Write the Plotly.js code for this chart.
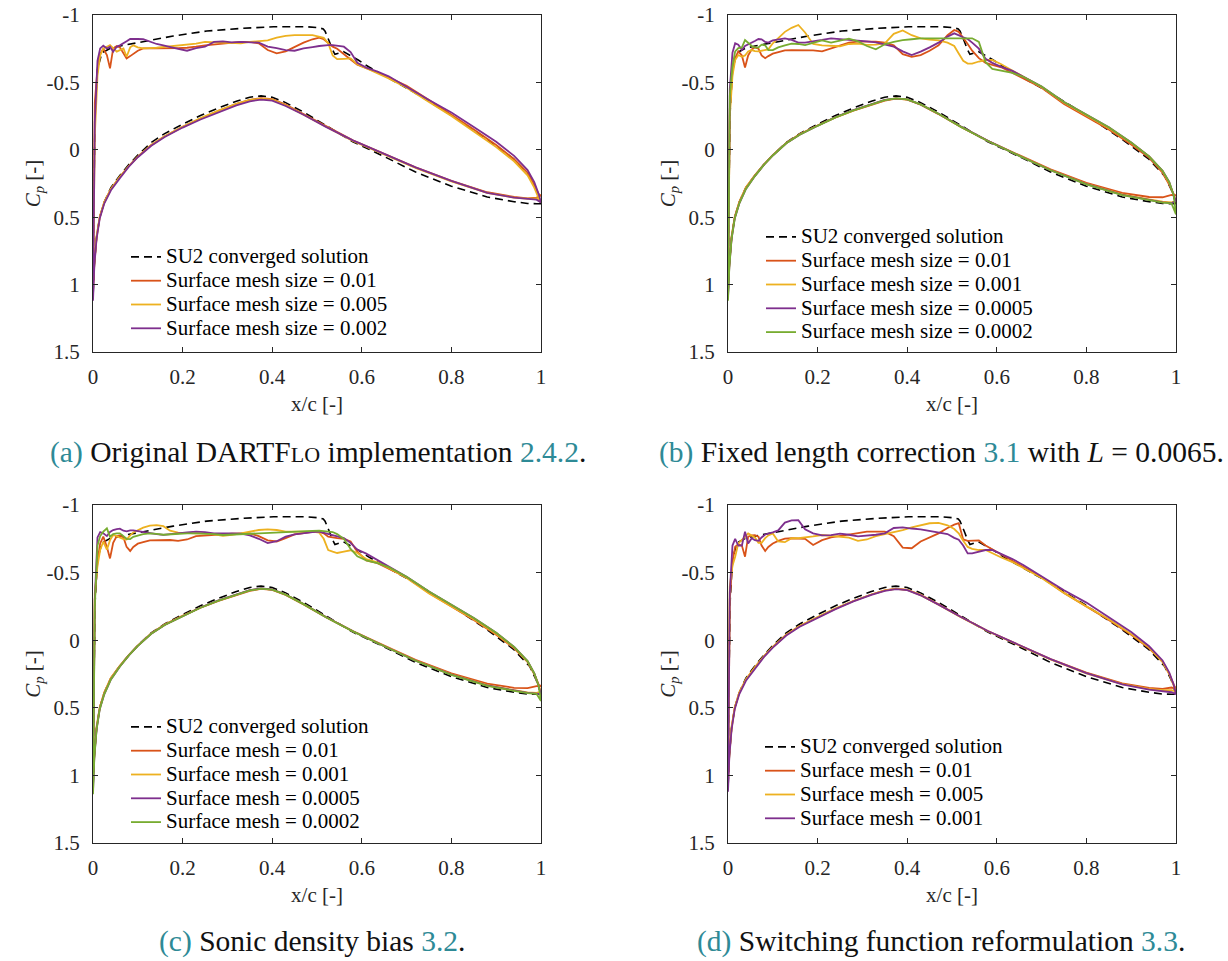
<!DOCTYPE html>
<html><head><meta charset="utf-8">
<script src="https://cdn.plot.ly/plotly-3.0.1.min.js"></script>
<style>
html,body{margin:0;padding:0;background:#fff}
#chart{width:1228px;height:961px}
#chart svg text{font-family:"Liberation Serif","Times New Roman",serif !important}
</style>
</head><body><div id="chart"></div>
<script>
// ---------- data ----------
const X_TICKS = [0, 0.2, 0.4, 0.6, 0.8, 1];
const X_TICK_TEXT = ['0', '0.2', '0.4', '0.6', '0.8', '1'];
const Y_TICKS = [-1, -0.5, 0, 0.5, 1, 1.5];
const Y_TICK_TEXT = ['-1', '-0.5', '0', '0.5', '1', '1.5'];

// upper (suction) surface stations, leading edge -> trailing edge
const XU = [0, 0.004, 0.01, 0.016, 0.023, 0.031, 0.038, 0.045, 0.053, 0.06, 0.068, 0.075, 0.083, 0.09, 0.1, 0.112, 0.127, 0.142, 0.157, 0.172, 0.19, 0.21, 0.23, 0.25, 0.27, 0.29, 0.31, 0.33, 0.35, 0.37, 0.39, 0.41, 0.43, 0.45, 0.47, 0.49, 0.505, 0.515, 0.525, 0.535, 0.545, 0.56, 0.575, 0.59, 0.61, 0.635, 0.66, 0.7, 0.75, 0.8, 0.85, 0.9, 0.94, 0.97, 0.985, 0.995, 1.0];
// lower (pressure) surface stations, leading edge -> trailing edge
const XL = [0, 0.003, 0.008, 0.015, 0.025, 0.04, 0.06, 0.08, 0.1, 0.13, 0.16, 0.2, 0.24, 0.28, 0.32, 0.35, 0.375, 0.4, 0.43, 0.47, 0.52, 0.58, 0.65, 0.72, 0.8, 0.88, 0.94, 0.97, 0.99, 1.0];

// SU2 converged solution (same reference in all four panels)
const SU2_XU = [0, 0.002, 0.005, 0.01, 0.02, 0.038, 0.06, 0.105, 0.179, 0.254, 0.328, 0.403, 0.477, 0.505, 0.514, 0.518, 0.522, 0.528, 0.535, 0.54, 0.559, 0.575, 0.592, 0.615, 0.655, 0.715, 0.797, 0.879, 0.938, 0.975, 0.99, 1.0];
const SU2_CPU = [1.1, 0.3, -0.3, -0.6, -0.72, -0.752, -0.77, -0.8, -0.844, -0.881, -0.9, -0.913, -0.913, -0.905, -0.896, -0.88, -0.856, -0.8, -0.74, -0.708, -0.728, -0.7, -0.666, -0.616, -0.542, -0.43, -0.262, -0.08, 0.065, 0.195, 0.3, 0.4];
const SU2_CPL = [1.1, 0.85, 0.65, 0.5, 0.39, 0.28, 0.19, 0.11, 0.04, -0.055, -0.12, -0.19, -0.255, -0.31, -0.36, -0.39, -0.4, -0.39, -0.35, -0.28, -0.18, -0.06, 0.05, 0.165, 0.27, 0.35, 0.385, 0.398, 0.4, 0.4];

// (a) Original DARTFlo implementation
const A_NAMES = ['SU2 converged solution', 'Surface mesh size = 0.01', 'Surface mesh size = 0.005', 'Surface mesh size = 0.002'];
const A_001_U = [1.05, -0.35, -0.6, -0.71, -0.75, -0.703, -0.604, -0.752, -0.77, -0.76, -0.72, -0.678, -0.695, -0.715, -0.735, -0.752, -0.752, -0.752, -0.75, -0.752, -0.755, -0.757, -0.765, -0.775, -0.785, -0.79, -0.795, -0.8, -0.8, -0.79, -0.74, -0.715, -0.73, -0.765, -0.795, -0.82, -0.832, -0.82, -0.795, -0.765, -0.75, -0.712, -0.67, -0.632, -0.605, -0.575, -0.54, -0.475, -0.37, -0.263, -0.15, -0.035, 0.07, 0.17, 0.26, 0.33, 0.34];
const A_001_L = [1.05, 0.85, 0.65, 0.5, 0.39, 0.29, 0.2, 0.12, 0.05, -0.035, -0.1, -0.17, -0.23, -0.29, -0.34, -0.37, -0.383, -0.375, -0.335, -0.265, -0.175, -0.07, 0.03, 0.13, 0.23, 0.315, 0.35, 0.36, 0.355, 0.34];
const A_0005_U = [1.0, -0.1, -0.55, -0.7, -0.752, -0.765, -0.777, -0.755, -0.728, -0.74, -0.752, -0.69, -0.76, -0.775, -0.76, -0.752, -0.754, -0.757, -0.76, -0.764, -0.77, -0.78, -0.787, -0.8, -0.8, -0.797, -0.793, -0.79, -0.8, -0.807, -0.812, -0.832, -0.845, -0.851, -0.851, -0.85, -0.84, -0.83, -0.79, -0.7, -0.673, -0.675, -0.678, -0.635, -0.605, -0.57, -0.53, -0.46, -0.355, -0.25, -0.135, -0.02, 0.085, 0.19, 0.28, 0.36, 0.39];
const A_0005_L = [1.0, 0.83, 0.64, 0.5, 0.39, 0.29, 0.2, 0.12, 0.05, -0.035, -0.1, -0.17, -0.235, -0.29, -0.34, -0.37, -0.38, -0.372, -0.33, -0.26, -0.17, -0.065, 0.035, 0.135, 0.235, 0.32, 0.355, 0.362, 0.36, 0.39];
const A_0002_U = [1.12, -0.2, -0.66, -0.752, -0.772, -0.752, -0.765, -0.728, -0.765, -0.775, -0.79, -0.805, -0.822, -0.822, -0.822, -0.82, -0.8, -0.785, -0.775, -0.765, -0.748, -0.735, -0.755, -0.765, -0.8, -0.805, -0.797, -0.8, -0.8, -0.795, -0.765, -0.755, -0.74, -0.735, -0.752, -0.762, -0.77, -0.775, -0.777, -0.777, -0.774, -0.765, -0.725, -0.645, -0.61, -0.58, -0.545, -0.465, -0.37, -0.277, -0.17, -0.06, 0.045, 0.15, 0.24, 0.33, 0.39];
const A_0002_L = [1.12, 0.86, 0.66, 0.51, 0.4, 0.3, 0.21, 0.125, 0.055, -0.03, -0.095, -0.165, -0.225, -0.28, -0.33, -0.36, -0.372, -0.365, -0.325, -0.26, -0.17, -0.07, 0.03, 0.13, 0.23, 0.32, 0.355, 0.365, 0.37, 0.39];

// (b) Fixed length correction, L = 0.0065
const B_NAMES = ['SU2 converged solution', 'Surface mesh size = 0.01', 'Surface mesh size = 0.001', 'Surface mesh size = 0.0005', 'Surface mesh size = 0.0002'];
const B_001_U = [1.05, -0.3, -0.58, -0.68, -0.73, -0.7, -0.61, -0.7, -0.745, -0.76, -0.75, -0.7, -0.68, -0.695, -0.713, -0.725, -0.738, -0.74, -0.74, -0.74, -0.737, -0.73, -0.752, -0.772, -0.795, -0.802, -0.802, -0.802, -0.795, -0.775, -0.71, -0.69, -0.703, -0.735, -0.775, -0.85, -0.889, -0.875, -0.835, -0.785, -0.735, -0.68, -0.645, -0.63, -0.612, -0.57, -0.53, -0.46, -0.34, -0.245, -0.15, -0.04, 0.06, 0.17, 0.26, 0.33, 0.34];
const B_001_L = [1.05, 0.85, 0.65, 0.5, 0.39, 0.28, 0.19, 0.11, 0.04, -0.05, -0.115, -0.18, -0.24, -0.29, -0.335, -0.365, -0.38, -0.372, -0.335, -0.265, -0.17, -0.067, 0.04, 0.145, 0.245, 0.32, 0.35, 0.352, 0.335, 0.34];
const B_0001_U = [1.0, -0.25, -0.55, -0.666, -0.703, -0.69, -0.7, -0.73, -0.74, -0.732, -0.73, -0.735, -0.74, -0.745, -0.79, -0.83, -0.875, -0.905, -0.926, -0.87, -0.785, -0.775, -0.77, -0.768, -0.785, -0.787, -0.778, -0.78, -0.79, -0.86, -0.885, -0.85, -0.826, -0.818, -0.812, -0.795, -0.77, -0.715, -0.66, -0.64, -0.64, -0.655, -0.666, -0.666, -0.635, -0.585, -0.54, -0.465, -0.35, -0.255, -0.16, -0.05, 0.05, 0.16, 0.25, 0.34, 0.38];
const B_0001_L = [1.0, 0.84, 0.64, 0.5, 0.39, 0.28, 0.19, 0.11, 0.04, -0.05, -0.115, -0.18, -0.24, -0.292, -0.338, -0.368, -0.381, -0.373, -0.336, -0.266, -0.17, -0.065, 0.042, 0.15, 0.252, 0.33, 0.368, 0.385, 0.39, 0.38];
const B_00005_U = [1.1, -0.45, -0.72, -0.79, -0.78, -0.74, -0.77, -0.782, -0.795, -0.807, -0.822, -0.82, -0.8, -0.795, -0.812, -0.82, -0.826, -0.815, -0.795, -0.795, -0.802, -0.815, -0.827, -0.822, -0.816, -0.81, -0.804, -0.797, -0.78, -0.765, -0.73, -0.703, -0.728, -0.76, -0.795, -0.84, -0.864, -0.85, -0.835, -0.822, -0.795, -0.75, -0.675, -0.645, -0.615, -0.585, -0.54, -0.47, -0.355, -0.262, -0.168, -0.055, 0.05, 0.155, 0.24, 0.34, 0.38];
const B_00005_L = [1.1, 0.86, 0.66, 0.51, 0.4, 0.29, 0.195, 0.112, 0.042, -0.048, -0.112, -0.178, -0.242, -0.295, -0.34, -0.37, -0.382, -0.374, -0.337, -0.267, -0.172, -0.066, 0.045, 0.152, 0.255, 0.335, 0.372, 0.39, 0.395, 0.38];
const B_00002_U = [1.12, -0.4, -0.62, -0.73, -0.755, -0.76, -0.814, -0.79, -0.77, -0.758, -0.76, -0.78, -0.775, -0.74, -0.74, -0.76, -0.775, -0.788, -0.785, -0.777, -0.795, -0.812, -0.795, -0.81, -0.825, -0.805, -0.77, -0.745, -0.783, -0.8, -0.813, -0.82, -0.827, -0.827, -0.827, -0.827, -0.827, -0.827, -0.827, -0.828, -0.827, -0.8, -0.65, -0.6, -0.585, -0.57, -0.54, -0.47, -0.355, -0.262, -0.168, -0.055, 0.05, 0.155, 0.24, 0.34, 0.48];
const B_00002_L = [1.12, 0.87, 0.66, 0.51, 0.4, 0.29, 0.195, 0.112, 0.042, -0.048, -0.112, -0.178, -0.24, -0.293, -0.338, -0.368, -0.381, -0.374, -0.337, -0.267, -0.17, -0.065, 0.045, 0.152, 0.256, 0.337, 0.374, 0.392, 0.397, 0.48];

// (c) Sonic density bias
const C_NAMES = ['SU2 converged solution', 'Surface mesh = 0.01', 'Surface mesh = 0.001', 'Surface mesh = 0.0005', 'Surface mesh = 0.0002'];
const C_001_U = [1.05, -0.3, -0.58, -0.716, -0.766, -0.69, -0.605, -0.72, -0.77, -0.775, -0.76, -0.69, -0.66, -0.69, -0.714, -0.725, -0.738, -0.741, -0.741, -0.741, -0.735, -0.745, -0.77, -0.774, -0.778, -0.783, -0.788, -0.79, -0.79, -0.77, -0.738, -0.73, -0.755, -0.783, -0.795, -0.802, -0.803, -0.79, -0.766, -0.76, -0.755, -0.75, -0.73, -0.655, -0.59, -0.57, -0.53, -0.465, -0.35, -0.25, -0.15, -0.04, 0.06, 0.16, 0.25, 0.33, 0.34];
const C_001_L = [1.05, 0.85, 0.65, 0.5, 0.39, 0.28, 0.19, 0.11, 0.04, -0.05, -0.115, -0.18, -0.24, -0.29, -0.335, -0.365, -0.38, -0.372, -0.335, -0.265, -0.17, -0.067, 0.04, 0.145, 0.245, 0.322, 0.352, 0.355, 0.34, 0.34];
const C_0001_U = [1.0, -0.35, -0.55, -0.667, -0.729, -0.67, -0.74, -0.778, -0.77, -0.762, -0.748, -0.745, -0.775, -0.797, -0.81, -0.833, -0.847, -0.851, -0.843, -0.81, -0.795, -0.79, -0.79, -0.79, -0.782, -0.772, -0.78, -0.79, -0.8, -0.815, -0.82, -0.815, -0.803, -0.803, -0.803, -0.803, -0.795, -0.75, -0.667, -0.655, -0.645, -0.655, -0.665, -0.645, -0.6, -0.575, -0.535, -0.46, -0.345, -0.25, -0.155, -0.045, 0.055, 0.16, 0.25, 0.34, 0.38];
const C_0001_L = [1.0, 0.84, 0.64, 0.5, 0.39, 0.28, 0.19, 0.11, 0.04, -0.05, -0.115, -0.18, -0.242, -0.293, -0.338, -0.368, -0.382, -0.374, -0.337, -0.267, -0.171, -0.066, 0.043, 0.15, 0.252, 0.332, 0.37, 0.386, 0.39, 0.38];
const C_00005_U = [1.12, -0.3, -0.76, -0.8, -0.79, -0.77, -0.8, -0.815, -0.822, -0.825, -0.81, -0.805, -0.812, -0.813, -0.81, -0.803, -0.792, -0.785, -0.779, -0.783, -0.79, -0.797, -0.803, -0.8, -0.79, -0.79, -0.79, -0.788, -0.775, -0.75, -0.718, -0.732, -0.766, -0.782, -0.792, -0.8, -0.803, -0.797, -0.79, -0.78, -0.768, -0.755, -0.72, -0.67, -0.64, -0.595, -0.545, -0.47, -0.36, -0.262, -0.165, -0.055, 0.05, 0.155, 0.245, 0.34, 0.4];
const C_00005_L = [1.12, 0.86, 0.66, 0.51, 0.4, 0.29, 0.195, 0.112, 0.042, -0.048, -0.112, -0.178, -0.242, -0.295, -0.34, -0.37, -0.383, -0.375, -0.338, -0.268, -0.172, -0.066, 0.045, 0.152, 0.255, 0.335, 0.372, 0.39, 0.395, 0.4];
const C_00002_U = [1.14, -0.25, -0.7, -0.77, -0.803, -0.827, -0.766, -0.785, -0.79, -0.79, -0.77, -0.75, -0.748, -0.765, -0.777, -0.785, -0.79, -0.787, -0.78, -0.78, -0.786, -0.79, -0.79, -0.79, -0.785, -0.778, -0.783, -0.788, -0.79, -0.793, -0.796, -0.8, -0.803, -0.803, -0.805, -0.808, -0.81, -0.808, -0.805, -0.8, -0.785, -0.75, -0.675, -0.62, -0.59, -0.57, -0.54, -0.47, -0.36, -0.262, -0.165, -0.055, 0.05, 0.155, 0.245, 0.34, 0.45];
const C_00002_L = [1.14, 0.87, 0.66, 0.51, 0.4, 0.29, 0.195, 0.112, 0.042, -0.048, -0.112, -0.178, -0.24, -0.293, -0.338, -0.368, -0.381, -0.374, -0.337, -0.267, -0.17, -0.065, 0.045, 0.152, 0.256, 0.337, 0.374, 0.392, 0.397, 0.45];

// (d) Switching function reformulation
const D_NAMES = ['SU2 converged solution', 'Surface mesh = 0.01', 'Surface mesh = 0.005', 'Surface mesh = 0.001'];
const D_001_U = [1.05, -0.3, -0.58, -0.692, -0.71, -0.7, -0.618, -0.766, -0.775, -0.776, -0.766, -0.7, -0.66, -0.69, -0.715, -0.735, -0.752, -0.754, -0.754, -0.75, -0.704, -0.74, -0.76, -0.77, -0.78, -0.792, -0.803, -0.803, -0.803, -0.77, -0.685, -0.68, -0.73, -0.757, -0.79, -0.83, -0.855, -0.865, -0.745, -0.735, -0.733, -0.738, -0.7, -0.668, -0.635, -0.585, -0.54, -0.465, -0.35, -0.25, -0.15, -0.04, 0.06, 0.16, 0.25, 0.33, 0.36];
const D_001_L = [1.05, 0.85, 0.65, 0.5, 0.39, 0.29, 0.2, 0.12, 0.05, -0.04, -0.105, -0.172, -0.233, -0.29, -0.338, -0.368, -0.381, -0.373, -0.335, -0.265, -0.172, -0.068, 0.035, 0.14, 0.24, 0.32, 0.352, 0.36, 0.35, 0.36];
const D_0005_U = [1.0, -0.4, -0.55, -0.618, -0.716, -0.745, -0.765, -0.79, -0.775, -0.76, -0.72, -0.72, -0.755, -0.775, -0.79, -0.73, -0.725, -0.754, -0.754, -0.758, -0.768, -0.778, -0.77, -0.764, -0.758, -0.735, -0.745, -0.77, -0.787, -0.8, -0.815, -0.835, -0.852, -0.865, -0.868, -0.85, -0.822, -0.79, -0.735, -0.69, -0.675, -0.667, -0.667, -0.64, -0.612, -0.578, -0.535, -0.46, -0.35, -0.25, -0.155, -0.045, 0.055, 0.16, 0.25, 0.34, 0.38];
const D_0005_L = [1.0, 0.84, 0.64, 0.5, 0.39, 0.29, 0.2, 0.12, 0.05, -0.04, -0.105, -0.172, -0.235, -0.29, -0.338, -0.368, -0.38, -0.372, -0.333, -0.262, -0.17, -0.066, 0.038, 0.143, 0.245, 0.325, 0.36, 0.37, 0.37, 0.38];
const D_0001_U = [1.12, -0.35, -0.7, -0.75, -0.7, -0.7, -0.803, -0.716, -0.754, -0.74, -0.735, -0.76, -0.782, -0.788, -0.797, -0.812, -0.87, -0.886, -0.887, -0.82, -0.79, -0.775, -0.777, -0.788, -0.78, -0.768, -0.772, -0.78, -0.79, -0.83, -0.835, -0.826, -0.82, -0.81, -0.797, -0.785, -0.757, -0.743, -0.7, -0.642, -0.642, -0.655, -0.667, -0.667, -0.64, -0.6, -0.555, -0.475, -0.37, -0.278, -0.17, -0.06, 0.045, 0.15, 0.24, 0.33, 0.4];
const D_0001_L = [1.12, 0.86, 0.66, 0.51, 0.4, 0.3, 0.21, 0.125, 0.055, -0.035, -0.1, -0.168, -0.23, -0.287, -0.335, -0.365, -0.378, -0.37, -0.332, -0.263, -0.171, -0.068, 0.035, 0.14, 0.243, 0.327, 0.365, 0.378, 0.385, 0.4];

// ---------- styling ----------
const COL = {su2: '#000000', c1: '#D95319', c2: '#EDB120', c3: '#7E2F8E', c4: '#77AC30'};
const TEAL = '#2E8A96';
const FONT = '"Liberation Serif", "Times New Roman", serif';

function loop(xu, yu, xl, yl) {
  if (xu.length !== yu.length || xl.length !== yl.length) {
    throw new Error('length mismatch ' + xu.length + '/' + yu.length + ' ' + xl.length + '/' + yl.length);
  }
  return {
    x: xu.slice().reverse().concat(xl.slice(1)),
    y: yu.slice().reverse().concat(yl.slice(1))
  };
}

const panels = [
  {ax: '', leg: 'legend', names: A_NAMES, series: [[A_001_U, A_001_L, COL.c1], [A_0005_U, A_0005_L, COL.c2], [A_0002_U, A_0002_L, COL.c3]]},
  {ax: '2', leg: 'legend2', names: B_NAMES, series: [[B_001_U, B_001_L, COL.c1], [B_0001_U, B_0001_L, COL.c2], [B_00005_U, B_00005_L, COL.c3], [B_00002_U, B_00002_L, COL.c4]]},
  {ax: '3', leg: 'legend3', names: C_NAMES, series: [[C_001_U, C_001_L, COL.c1], [C_0001_U, C_0001_L, COL.c2], [C_00005_U, C_00005_L, COL.c3], [C_00002_U, C_00002_L, COL.c4]]},
  {ax: '4', leg: 'legend4', names: D_NAMES, series: [[D_001_U, D_001_L, COL.c1], [D_0005_U, D_0005_L, COL.c2], [D_0001_U, D_0001_L, COL.c3]]}
];

const LEG_SPAN = (t) => '<span style="font-size:21px">' + t + '</span>';

const traces = [];
panels.forEach(p => {
  const su = loop(SU2_XU, SU2_CPU, XL, SU2_CPL);
  traces.push({type: 'scatter', mode: 'lines', x: su.x, y: su.y, xaxis: 'x' + p.ax, yaxis: 'y' + p.ax,
    legend: p.leg, name: LEG_SPAN(p.names[0]), line: {color: COL.su2, width: 1.6, dash: '8px,5px'}});
  p.series.forEach((s, i) => {
    const d = loop(XU, s[0], XL, s[1]);
    traces.push({type: 'scatter', mode: 'lines', x: d.x, y: d.y, xaxis: 'x' + p.ax, yaxis: 'y' + p.ax,
      legend: p.leg, name: LEG_SPAN(p.names[i + 1]), line: {color: s[2], width: 1.8}});
  });
});

const W = 1228, H = 961;
const px = v => v / W, py = v => 1 - v / H;
const colL = [px(93), px(541)], colR = [px(728), px(1176)];
const rowT = [py(352), py(15)], rowB = [py(843), py(505)];

function xAxis(dom, anchor) {
  return {domain: dom, anchor: anchor, range: [0, 1], tickvals: X_TICKS, ticktext: X_TICK_TEXT,
    ticks: 'inside', ticklen: 5, tickcolor: '#262626', showline: true, linecolor: '#262626', linewidth: 1,
    mirror: 'ticks', showgrid: false, zeroline: false, tickfont: {family: FONT, size: 21}, ticklabelstandoff: 6,
    title: {text: 'x/c [-]', font: {family: FONT, size: 21}, standoff: 8}, automargin: false, fixedrange: true};
}
function yAxis(dom, anchor) {
  return {domain: dom, anchor: anchor, range: [1.5, -1], tickvals: Y_TICKS, ticktext: Y_TICK_TEXT,
    ticks: 'inside', ticklen: 5, tickcolor: '#262626', showline: true, linecolor: '#262626', linewidth: 1,
    mirror: 'ticks', showgrid: false, zeroline: false, tickfont: {family: FONT, size: 21}, ticklabelstandoff: 8,
    title: {text: '<i>C<sub>p</sub></i> [-]', font: {family: FONT, size: 21}, standoff: 0}, automargin: false, fixedrange: true};
}
function legend(xp, yp) {
  return {x: px(xp), y: py(yp), xanchor: 'left', yanchor: 'top', bgcolor: 'rgba(0,0,0,0)',
    borderwidth: 0, font: {family: FONT, size: 16, color: '#000'}, tracegroupgap: 0};
}

const captions = [
  {x: px(318), y: py(452), text: '<span style="color:' + TEAL + '">(a)</span> Original DARTF<span style="font-size:22px">LO</span> implementation <span style="color:' + TEAL + '">2.4.2</span>.'},
  {x: px(941), y: py(452), text: '<span style="color:' + TEAL + '">(b)</span> Fixed length correction <span style="color:' + TEAL + '">3.1</span> with <i>L</i> = 0.0065.'},
  {x: px(312), y: py(941), text: '<span style="color:' + TEAL + '">(c)</span> Sonic density bias <span style="color:' + TEAL + '">3.2</span>.'},
  {x: px(941), y: py(941), text: '<span style="color:' + TEAL + '">(d)</span> Switching function reformulation <span style="color:' + TEAL + '">3.3</span>.'}
].map(c => Object.assign(c, {xref: 'paper', yref: 'paper', xanchor: 'center', yanchor: 'middle', showarrow: false, font: {family: FONT, size: 29.5, color: '#111'}}));

const layout = {
  width: W, height: H, margin: {l: 0, r: 0, t: 0, b: 0},
  paper_bgcolor: '#ffffff', plot_bgcolor: '#ffffff',
  font: {family: FONT, size: 21, color: '#262626'},
  showlegend: true,
  xaxis: xAxis(colL, 'y'), yaxis: yAxis(rowT, 'x'),
  xaxis2: xAxis(colR, 'y2'), yaxis2: yAxis(rowT, 'x2'),
  xaxis3: xAxis(colL, 'y3'), yaxis3: yAxis(rowB, 'x3'),
  xaxis4: xAxis(colR, 'y4'), yaxis4: yAxis(rowB, 'x4'),
  legend: legend(126, 240),
  legend2: legend(761, 220),
  legend3: legend(126, 710),
  legend4: legend(760, 730),
  annotations: captions
};

Plotly.newPlot('chart', traces, layout, {staticPlot: true, displayModeBar: false});
</script></body></html>
